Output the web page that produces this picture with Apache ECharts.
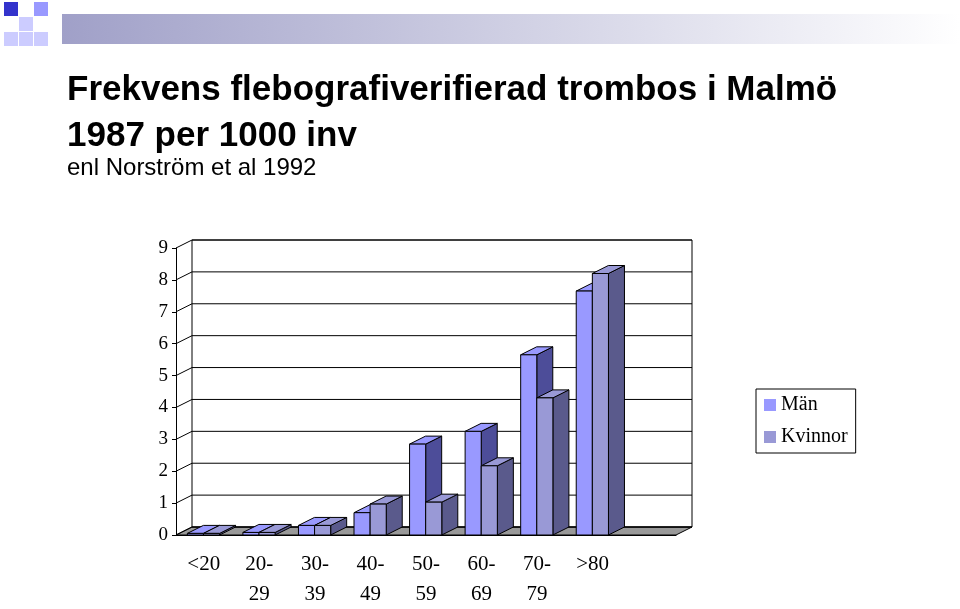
<!DOCTYPE html><html><head><meta charset="utf-8">
<script src="https://cdn.jsdelivr.net/npm/echarts@6/dist/echarts.min.js"></script>
<style>html,body{margin:0;background:#fff;overflow:hidden}#c{width:960px;height:609px}</style></head><body><div id="c"></div>
<script>
const categories=['<20','20-\n29','30-\n39','40-\n49','50-\n59','60-\n69','70-\n79','>80',''];
const man=[0.05,0.08,0.3,0.7,2.85,3.25,5.65,7.65,null];
const kvinnor=[0.05,0.08,0.3,0.97,1.03,2.17,4.3,8.2,null];
const yTicks=[0,1,2,3,4,5,6,7,8,9];
const DX=16,DY=-8;
const chart=echarts.init(document.getElementById('c'));
function mk(name,data,off,front,top,side){
 return {name,type:'custom',data:data.map((v,i)=>[i,v]),itemStyle:{color:front},
  renderItem:function(params,api){
   const v=api.value(1); if(v==null||isNaN(v))return;
   const p=api.coord([api.value(0),v]), b=api.coord([api.value(0),0]);
   const bw=api.size([1,0])[0]*0.29;
   const x=p[0]-bw+off*bw-bw*0.02, y=p[1], y0=b[1];
   return {type:'group',children:[
    {type:'polygon',shape:{points:[[x+bw,y],[x+bw+DX,y+DY],[x+bw+DX,y0+DY],[x+bw,y0]]},style:{fill:side,stroke:'#000',lineWidth:1}},
    {type:'polygon',shape:{points:[[x,y],[x+DX,y+DY],[x+bw+DX,y+DY],[x+bw,y]]},style:{fill:top,stroke:'#000',lineWidth:1}},
    {type:'rect',shape:{x:x,y:y,width:bw,height:y0-y},style:{fill:front,stroke:'#000',lineWidth:1}}
   ]};
  }};
}
const sans='Liberation Sans, Arial, sans-serif', serif='Liberation Serif, Times New Roman, serif';
const deco=[];
[[0,0,'#3333cc'],[15,15,'#ccccff'],[30,0,'#9999ff'],[15,30,'#ccccff'],[30,30,'#ccccff'],[0,30,'#ccccff']].forEach(d=>deco.push({type:'rect',shape:{x:4+d[0],y:2+d[1],width:14,height:14},style:{fill:d[2]}}));
deco.push({type:'rect',shape:{x:62,y:14,width:898,height:30},style:{fill:new echarts.graphic.LinearGradient(0,0,1,0,[{offset:0,color:'#a0a0c8'},{offset:1,color:'#ffffff'}])}});
chart.setOption({
 animation:false,
 title:[{text:'Frekvens flebografiverifierad trombos i Malmö\n1987 per 1000 inv',left:62,top:62,textStyle:{fontFamily:sans,fontSize:35,fontWeight:'bold',color:'#000',lineHeight:46}},
  {text:'enl Norström et al 1992',left:62,top:151,textStyle:{fontFamily:sans,fontSize:24,fontWeight:'normal',color:'#000'}}],
 legend:{orient:'vertical',left:756,top:389,padding:[6,8,6,8],itemGap:12,itemWidth:12,itemHeight:12,borderColor:'#000',borderWidth:1,icon:'rect',
  textStyle:{fontFamily:serif,fontSize:20,color:'#000'},data:['Män','Kvinnor']},
 grid:{left:176,right:960-676,top:248,bottom:64},
 xAxis:{type:'category',data:categories,axisTick:{show:false},axisLine:{lineStyle:{color:'#000'}},
  axisLabel:{interval:0,fontFamily:serif,fontSize:21,color:'#000',lineHeight:30,margin:14,verticalAlign:'top'}},
 yAxis:{type:'value',min:0,max:9,interval:1,splitLine:{show:false},axisLine:{show:true,lineStyle:{color:'#000'}},axisTick:{show:true,length:4,lineStyle:{color:'#000'}},
  axisLabel:{fontFamily:serif,fontSize:19,color:'#000',margin:8}},
 series:[mk('Män',man,0,'#9999ff','#9999ff','#4d4d99'),mk('Kvinnor',kvinnor,1,'#9999d6','#9999d6','#5a5a8c')],
 graphic:deco
});
const L=chart.convertToPixel({xAxisIndex:0},0)-chart.convertToPixel({xAxisIndex:0},1)/2+chart.convertToPixel({xAxisIndex:0},0)/2;
const bw=chart.convertToPixel({xAxisIndex:0},1)-chart.convertToPixel({xAxisIndex:0},0);
const x0=chart.convertToPixel({xAxisIndex:0},0)-bw/2, x1=x0+bw*categories.length;
const B=chart.convertToPixel({yAxisIndex:0},0), T=chart.convertToPixel({yAxisIndex:0},9);
const walls=[];
walls.push({type:'polygon',shape:{points:[[x0,B],[x0+DX,B+DY],[x1+DX,B+DY],[x1,B]]},style:{fill:'#999999',stroke:'#000',lineWidth:1},z:-1});
walls.push({type:'rect',shape:{x:x0+DX,y:T+DY,width:x1-x0,height:B-T},style:{fill:'none',stroke:'#000',lineWidth:1},z:-1});
yTicks.forEach(t=>{const y=chart.convertToPixel({yAxisIndex:0},t);
 walls.push({type:'line',shape:{x1:x0+DX,y1:y+DY,x2:x1+DX,y2:y+DY},style:{stroke:'#000',lineWidth:1},z:-1});
 walls.push({type:'line',shape:{x1:x0,y1:y,x2:x0+DX,y2:y+DY},style:{stroke:'#000',lineWidth:1},z:-1});});
chart.setOption({graphic:deco.concat(walls)});
</script></body></html>
